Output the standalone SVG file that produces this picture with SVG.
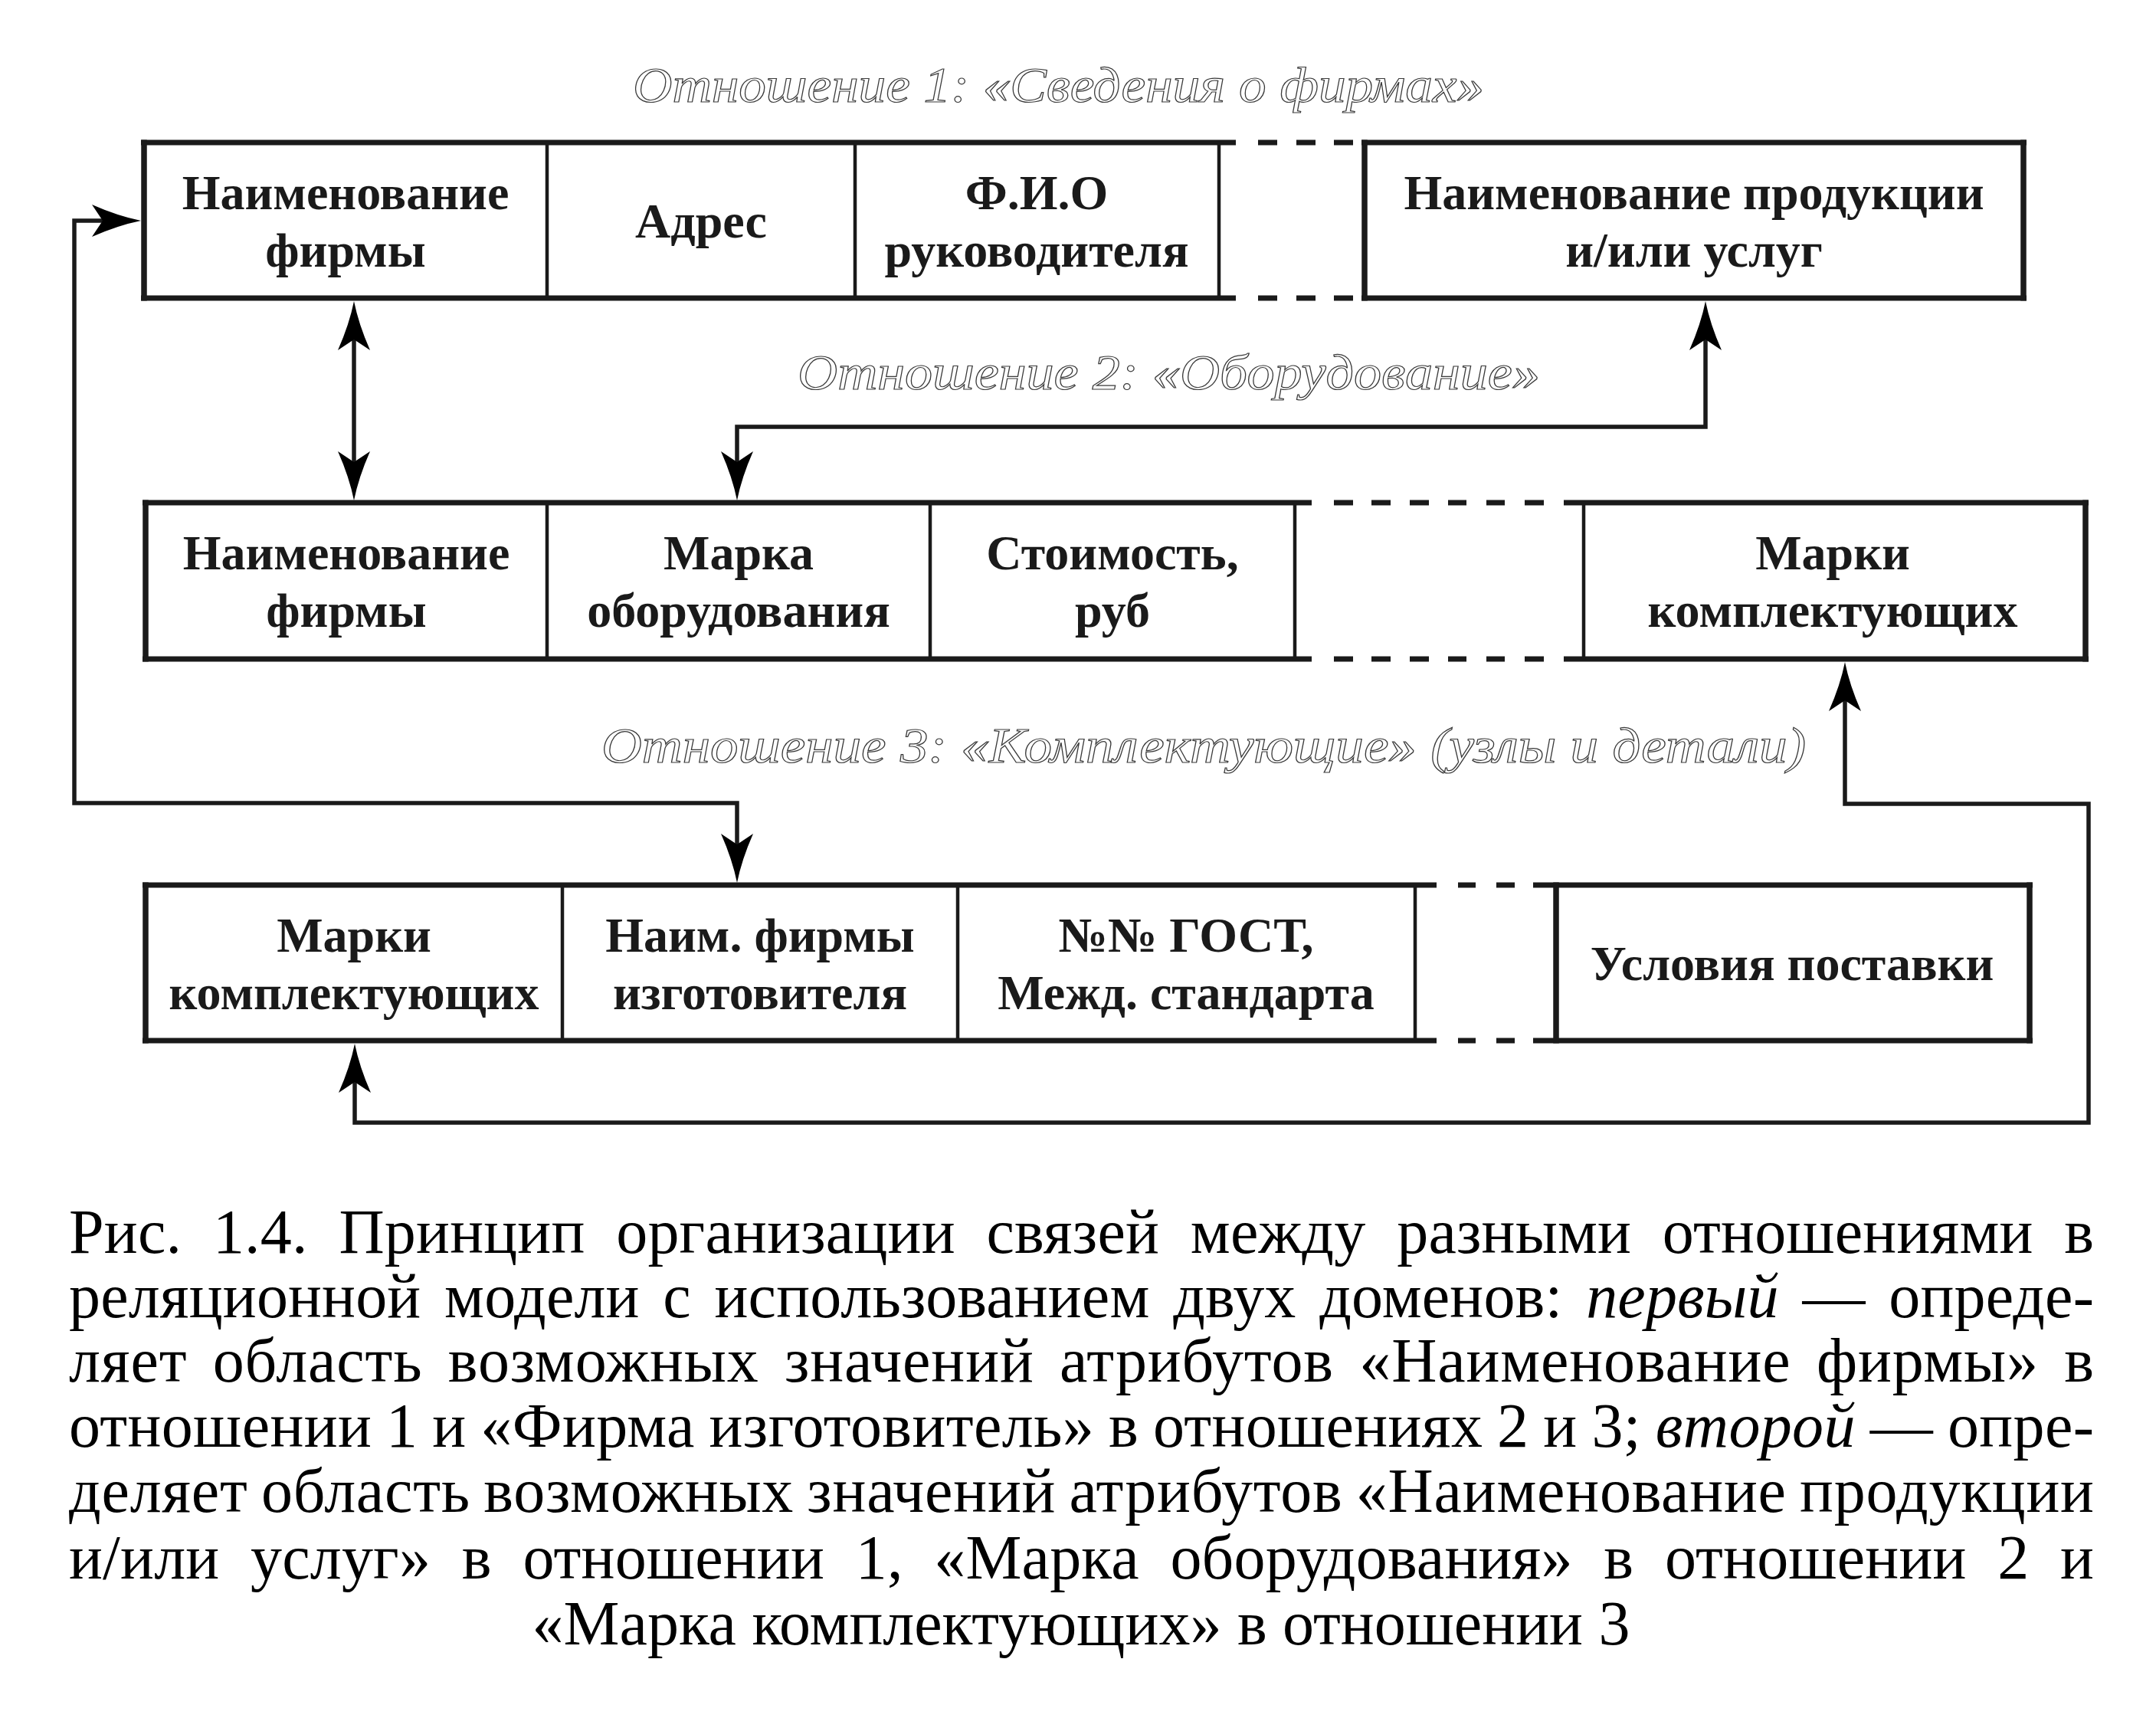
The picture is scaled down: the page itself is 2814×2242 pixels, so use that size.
<svg xmlns="http://www.w3.org/2000/svg" xmlns:xlink="http://www.w3.org/1999/xlink" width="2814" height="2242" viewBox="0 0 2814 2242">
<style>
.cell{font-family:"Liberation Serif","Times New Roman",serif;font-weight:bold;font-size:64px;text-anchor:middle;fill:#1a1a1a}
.rel{font-family:"Liberation Serif","Times New Roman",serif;font-style:italic;font-size:66px;fill:#ffffff;stroke:#3a3a3a;stroke-width:1.2}
.cap{font-family:"Liberation Serif","Times New Roman",serif;font-size:82px;fill:#000}
.it{font-style:italic}
.edge{stroke:#1a1a1a;stroke-width:7.5;fill:none}
.div{stroke:#1a1a1a;stroke-width:4.5;fill:none}
.hl{stroke:#1a1a1a;stroke-width:7;fill:none}
.con{stroke:#1a1a1a;stroke-width:5.5;fill:none}
.ah{fill:#000}
</style>
<defs>
<path id="ah" d="M0,0 Q-6,30 -21,64 L0,50 L21,64 Q6,30 0,0 Z"/>
</defs>
<rect width="2814" height="2242" fill="#fff"/>

<text class="rel" x="826" y="133" textLength="1111" lengthAdjust="spacingAndGlyphs">Отношение 1: «Сведения о фирмах»</text>
<text class="rel" x="1041" y="508" textLength="969" lengthAdjust="spacingAndGlyphs">Отношение 2: «Оборудование»</text>
<text class="rel" x="785" y="995" textLength="1572" lengthAdjust="spacingAndGlyphs">Отношение 3: «Комплектующие» (узлы и детали)</text>

<g id="relation1">
<g class="frame">
<line class="hl" x1="184" y1="186" x2="1613" y2="186"/>
<line class="hl" x1="184" y1="389" x2="1613" y2="389"/>
<line class="hl" x1="1642" y1="186" x2="1667" y2="186"/>
<line class="hl" x1="1692" y1="186" x2="1717" y2="186"/>
<line class="hl" x1="1741" y1="186" x2="1766" y2="186"/>
<line class="hl" x1="1642" y1="389" x2="1667" y2="389"/>
<line class="hl" x1="1692" y1="389" x2="1717" y2="389"/>
<line class="hl" x1="1741" y1="389" x2="1766" y2="389"/>
<line class="hl" x1="1777" y1="186" x2="2645" y2="186"/>
<line class="hl" x1="1777" y1="389" x2="2645" y2="389"/>
<line class="edge" x1="188" y1="182.5" x2="188" y2="392.5"/>
<line class="div" x1="714" y1="186" x2="714" y2="389"/>
<line class="div" x1="1116" y1="186" x2="1116" y2="389"/>
<line class="div" x1="1591" y1="186" x2="1591" y2="389"/>
<line class="edge" x1="1781" y1="182.5" x2="1781" y2="392.5"/>
<line class="edge" x1="2641" y1="182.5" x2="2641" y2="392.5"/>
</g>
<g id="r1-firm"><text class="cell" x="451" y="273">Наименование</text><text class="cell" x="451" y="348">фирмы</text></g>
<g id="r1-addr"><text class="cell" x="915" y="310">Адрес</text></g>
<g id="r1-fio"><text class="cell" x="1353" y="273">Ф.И.О</text><text class="cell" x="1353" y="348">руководителя</text></g>
<g id="r1-prod"><text class="cell" x="2211" y="273">Наименование продукции</text><text class="cell" x="2211" y="348">и/или услуг</text></g>
</g>

<g id="relation2">
<g class="frame">
<line class="hl" x1="186" y1="656" x2="1712" y2="656"/>
<line class="hl" x1="186" y1="860" x2="1712" y2="860"/>
<line class="hl" x1="1741" y1="656" x2="1766" y2="656"/>
<line class="hl" x1="1790" y1="656" x2="1815" y2="656"/>
<line class="hl" x1="1840" y1="656" x2="1865" y2="656"/>
<line class="hl" x1="1890" y1="656" x2="1914" y2="656"/>
<line class="hl" x1="1940" y1="656" x2="1964" y2="656"/>
<line class="hl" x1="1990" y1="656" x2="2015" y2="656"/>
<line class="hl" x1="1741" y1="860" x2="1766" y2="860"/>
<line class="hl" x1="1790" y1="860" x2="1815" y2="860"/>
<line class="hl" x1="1840" y1="860" x2="1865" y2="860"/>
<line class="hl" x1="1890" y1="860" x2="1914" y2="860"/>
<line class="hl" x1="1940" y1="860" x2="1964" y2="860"/>
<line class="hl" x1="1990" y1="860" x2="2015" y2="860"/>
<line class="hl" x1="2041" y1="656" x2="2726" y2="656"/>
<line class="hl" x1="2041" y1="860" x2="2726" y2="860"/>
<line class="edge" x1="190" y1="652.5" x2="190" y2="863.5"/>
<line class="div" x1="714" y1="656" x2="714" y2="860"/>
<line class="div" x1="1214" y1="656" x2="1214" y2="860"/>
<line class="div" x1="1690" y1="656" x2="1690" y2="860"/>
<line class="div" x1="2067" y1="656" x2="2067" y2="860"/>
<line class="edge" x1="2722" y1="652.5" x2="2722" y2="863.5"/>
</g>
<g id="r2-firm"><text class="cell" x="452" y="743">Наименование</text><text class="cell" x="452" y="818">фирмы</text></g>
<g id="r2-mark"><text class="cell" x="964" y="743">Марка</text><text class="cell" x="964" y="818">оборудования</text></g>
<g id="r2-cost"><text class="cell" x="1452" y="743">Стоимость,</text><text class="cell" x="1452" y="818">руб</text></g>
<g id="r2-comp"><text class="cell" x="2392" y="743">Марки</text><text class="cell" x="2392" y="818">комплектующих</text></g>
</g>

<g id="relation3">
<g class="frame">
<line class="hl" x1="186" y1="1155" x2="1875" y2="1155"/>
<line class="hl" x1="186" y1="1358" x2="1875" y2="1358"/>
<line class="hl" x1="1903" y1="1155" x2="1926" y2="1155"/>
<line class="hl" x1="1953" y1="1155" x2="1977" y2="1155"/>
<line class="hl" x1="1903" y1="1358" x2="1926" y2="1358"/>
<line class="hl" x1="1953" y1="1358" x2="1977" y2="1358"/>
<line class="hl" x1="2001" y1="1155" x2="2653" y2="1155"/>
<line class="hl" x1="2001" y1="1358" x2="2653" y2="1358"/>
<line class="edge" x1="190" y1="1151.5" x2="190" y2="1361.5"/>
<line class="div" x1="734" y1="1155" x2="734" y2="1358"/>
<line class="div" x1="1250" y1="1155" x2="1250" y2="1358"/>
<line class="div" x1="1847" y1="1155" x2="1847" y2="1358"/>
<line class="edge" x1="2031" y1="1151.5" x2="2031" y2="1361.5"/>
<line class="edge" x1="2649" y1="1151.5" x2="2649" y2="1361.5"/>
</g>
<g id="r3-comp"><text class="cell" x="462" y="1242">Марки</text><text class="cell" x="462" y="1317">комплектующих</text></g>
<g id="r3-firm"><text class="cell" x="992" y="1242">Наим. фирмы</text><text class="cell" x="992" y="1317">изготовителя</text></g>
<g id="r3-gost"><text class="cell" x="1548" y="1242">№№ ГОСТ,</text><text class="cell" x="1548" y="1317">Межд. стандарта</text></g>
<g id="r3-cond"><text class="cell" x="2339" y="1279">Условия поставки</text></g>
</g>

<g id="connectors">
<line class="con" x1="462" y1="440" x2="462" y2="606"/>
<use href="#ah" class="ah" transform="translate(462,393)"/>
<use href="#ah" class="ah" transform="translate(462,653) rotate(180)"/>
<path class="con" d="M962,606 V557 H2226 V440"/>
<use href="#ah" class="ah" transform="translate(962,653) rotate(180)"/>
<use href="#ah" class="ah" transform="translate(2226,393)"/>
<path class="con" d="M962,1104 V1048 H97 V288 H136"/>
<use href="#ah" class="ah" transform="translate(962,1152) rotate(180)"/>
<use href="#ah" class="ah" transform="translate(184,288) rotate(90)"/>
<path class="con" d="M463,1410 V1465 H2726 V1049 H2408 V911"/>
<use href="#ah" class="ah" transform="translate(463,1362)"/>
<use href="#ah" class="ah" transform="translate(2408,864)"/>
</g>

<g id="caption">
<text class="cap" x="90" y="1635" textLength="2643" lengthAdjust="spacing" word-spacing="20">Рис. 1.4. Принцип организации связей между разными отношениями в</text>
<text class="cap" x="90" y="1719" textLength="2643" lengthAdjust="spacing" word-spacing="10">реляционной модели с использованием двух доменов: <tspan class="it">первый</tspan> — опреде-</text>
<text class="cap" x="90" y="1803" textLength="2643" lengthAdjust="spacing" word-spacing="12">ляет область возможных значений атрибутов «Наименование фирмы» в</text>
<text class="cap" x="90" y="1888" textLength="2643" lengthAdjust="spacing" word-spacing="-2">отношении 1 и «Фирма изготовитель» в отношениях 2 и 3; <tspan class="it">второй</tspan> — опре-</text>
<text class="cap" x="90" y="1973" textLength="2643" lengthAdjust="spacing" word-spacing="-4">деляет область возможных значений атрибутов «Наименование продукции</text>
<text class="cap" x="90" y="2060" textLength="2643" lengthAdjust="spacing" word-spacing="20">и/или услуг» в отношении 1, «Марка оборудования» в отношении 2 и</text>
<text class="cap" x="1411" y="2146" text-anchor="middle">«Марка комплектующих» в отношении 3</text>
</g>
</svg>
